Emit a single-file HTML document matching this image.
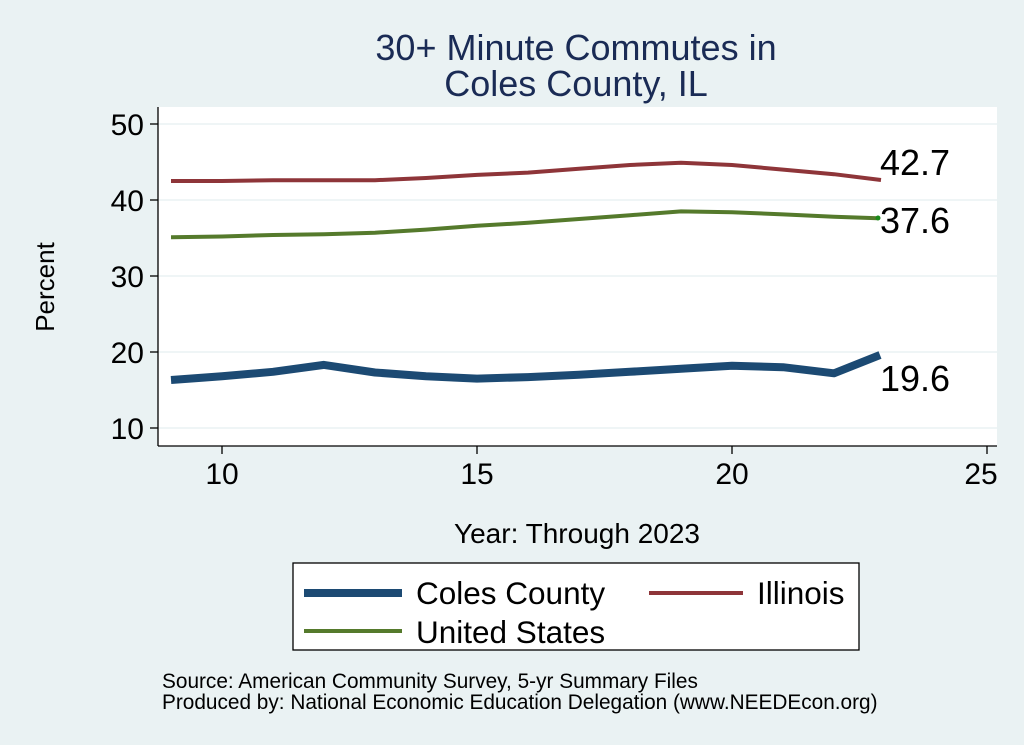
<!DOCTYPE html>
<html><head><meta charset="utf-8"><style>
html,body{margin:0;padding:0;background:#eaf2f3;}
svg{display:block;font-family:"Liberation Sans",Arial,sans-serif;}
</style></head><body>
<svg width="1024" height="745" viewBox="0 0 1024 745">
<rect x="0" y="0" width="1024" height="745" fill="#eaf2f3"/>
<text x="576" y="60" font-size="36" fill="#1a2b55" text-anchor="middle">30+ Minute Commutes in</text>
<text x="576" y="96" font-size="36" fill="#1a2b55" text-anchor="middle">Coles County, IL</text>
<rect x="158" y="107" width="839" height="339" fill="#ffffff"/>
<g stroke="#eaf2f3" stroke-width="1.5">
<line x1="158" y1="124" x2="997" y2="124"/>
<line x1="158" y1="200" x2="997" y2="200"/>
<line x1="158" y1="276" x2="997" y2="276"/>
<line x1="158" y1="352" x2="997" y2="352"/>
<line x1="158" y1="428" x2="997" y2="428"/>
</g>
<g stroke="#000" stroke-width="1.3">
<line x1="158" y1="107" x2="158" y2="446"/>
<line x1="158" y1="446" x2="997" y2="446"/>
<line x1="150" y1="124" x2="158" y2="124"/>
<line x1="150" y1="200" x2="158" y2="200"/>
<line x1="150" y1="276" x2="158" y2="276"/>
<line x1="150" y1="352" x2="158" y2="352"/>
<line x1="150" y1="428" x2="158" y2="428"/>
<line x1="222" y1="446" x2="222" y2="454"/>
<line x1="477" y1="446" x2="477" y2="454"/>
<line x1="732" y1="446" x2="732" y2="454"/>
<line x1="987" y1="446" x2="987" y2="454"/>
</g>
<g font-size="30" fill="#000" text-anchor="end">
<text x="144" y="135">50</text><text x="144" y="211">40</text><text x="144" y="287">30</text><text x="144" y="363">20</text><text x="144" y="439">10</text>
</g>
<g font-size="30" fill="#000" text-anchor="middle">
<text x="222" y="484">10</text><text x="477" y="484">15</text><text x="732" y="484">20</text><text x="981" y="484">25</text>
</g>
<text x="577" y="543" font-size="28" text-anchor="middle">Year: Through 2023</text>
<text transform="translate(54,287) rotate(-90)" font-size="26" text-anchor="middle">Percent</text>
<polyline fill="none" stroke="#8e3539" stroke-width="4" points="171,181 222,181 273,180.2 324,180.2 375,180.2 426,178 477,174.9 528,172.6 579,168.8 630,165 681,162.8 732,165 783,169.6 834,174.2 881,180"/>
<polyline fill="none" stroke="#557a2c" stroke-width="4" points="171,237.2 222,236.5 273,235 324,234.2 375,232.7 426,229.6 477,225.8 528,222.8 579,219 630,215.2 681,211.4 732,212.2 783,214.4 834,216.7 878,218.2"/>
<circle cx="878" cy="218" r="2.5" fill="#1a8a1a"/>
<polyline fill="none" stroke="#1c4a73" stroke-width="8" stroke-linejoin="round" points="171,380 222,376.3 273,371.8 324,364.9 375,372.5 426,376.3 477,378.6 528,377.1 579,374.8 630,371.8 681,368.7 732,365.7 783,367.2 834,373.3 880,355"/>
<g font-size="36" fill="#000">
<text x="880" y="175">42.7</text>
<text x="880" y="233">37.6</text>
<text x="880" y="391">19.6</text>
</g>
<rect x="293" y="563" width="566" height="87" fill="#fff" stroke="#000" stroke-width="1.3"/>
<line x1="304" y1="593" x2="402" y2="593" stroke="#1c4a73" stroke-width="8"/>
<text x="416" y="604" font-size="31.5">Coles County</text>
<line x1="649" y1="593" x2="743" y2="593" stroke="#8e3539" stroke-width="4"/>
<text x="757" y="604" font-size="31.5">Illinois</text>
<line x1="304" y1="631" x2="402" y2="631" stroke="#557a2c" stroke-width="4"/>
<text x="416" y="643" font-size="31.5">United States</text>
<text x="162" y="688" font-size="20.8">Source: American Community Survey, 5-yr Summary Files</text>
<text x="162" y="709" font-size="20.8">Produced by: National Economic Education Delegation (www.NEEDEcon.org)</text>
</svg>
</body></html>
